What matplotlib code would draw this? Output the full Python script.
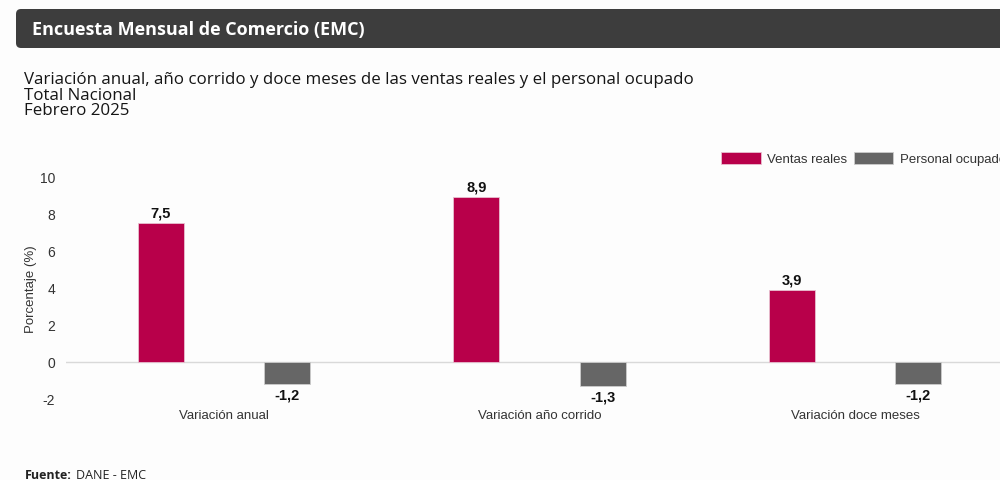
import numpy as np
import matplotlib.pyplot as plt
from matplotlib.patches import FancyBboxPatch

# datos
categorias = ['Variación anual', 'Variación año corrido', 'Variación doce meses']
ventas_reales = [7.5, 8.9, 3.9]
personal_ocupado = [-1.2, -1.3, -1.2]
series = ['Ventas reales', 'Personal ocupado']
yticks = [-2, 0, 2, 4, 6, 8, 10]

rojo = '#b8004a'
gris = '#666666'
fondo = '#fdfdfd'

fig = plt.figure(figsize=(10, 4.81), dpi=100, facecolor=fondo)

# barra de encabezado
header = FancyBboxPatch((0.16, 4.32), 9.95, 0.39, boxstyle='round,pad=0,rounding_size=0.05',
                        transform=fig.dpi_scale_trans, facecolor='#3d3d3d', edgecolor='none')
fig.patches.append(header)
fig.text(0.032, 1 - 30 / 481, 'Encuesta Mensual de Comercio (EMC)', color='white',
         fontsize=13, fontweight='bold', family='Open Sans', va='center')

subt = ['Variación anual, año corrido y doce meses de las ventas reales y el personal ocupado',
        'Total Nacional', 'Febrero 2025']
for i, s in enumerate(subt):
    fig.text(0.024, 1 - (80 + 15.5 * i) / 481, s, color='#151515', fontsize=12.2,
             family='Open Sans', va='center')

ax = fig.add_axes([0.066, (481 - 400) / 481, 0.947, 222 / 481])
ax.set_facecolor(fondo)
x = np.arange(len(categorias))
off = 0.2
w = 46 / 315.5
ax.bar(x - off, ventas_reales, w, color=rojo, edgecolor='#e8c0d0', linewidth=0.6,
       label=series[0], zorder=3)
ax.bar(x + off, personal_ocupado, w, color=gris, edgecolor='#cccccc', linewidth=0.6,
       label=series[1], zorder=3)

for xi, v in zip(x - off, ventas_reales):
    ax.text(xi, v + 0.2, f'{v:.1f}'.replace('.', ','), ha='center', va='bottom',
            fontsize=10.5, fontweight='bold', family='Liberation Sans', color='#111111')
for xi, v in zip(x + off, personal_ocupado):
    ax.text(xi, v - 0.2, f'{v:.1f}'.replace('.', ','), ha='center', va='top',
            fontsize=10.5, fontweight='bold', family='Liberation Sans', color='#111111')

ax.set_xlim(-0.5, 2.5)
ax.set_ylim(-2, 10)
ax.set_yticks(yticks)
ax.set_yticklabels([str(t) for t in yticks], family='Liberation Sans', fontsize=10, color='#333333')
ax.set_xticks(x)
ax.set_xticklabels(categorias, family='Liberation Sans', fontsize=9.5, color='#333333')
ax.tick_params(axis='both', length=0)
ax.tick_params(axis='y', pad=8)
ax.tick_params(axis='x', pad=7)
ax.axhline(0, color='#d9d9d9', linewidth=1, zorder=2)
for s in ax.spines.values():
    s.set_visible(False)
ax.set_ylabel('Porcentaje (%)', family='Liberation Sans', fontsize=9.5, color='#333333', labelpad=2)

leg = ax.legend(loc='upper left', bbox_to_anchor=(0.721, 1 - 153 / 481), bbox_transform=fig.transFigure,
                ncol=2, frameon=False, borderpad=0, borderaxespad=0, handlelength=3.0,
                handleheight=1.0, handletextpad=0.5, columnspacing=0.5,
                prop={'family': 'Liberation Sans', 'size': 9.5})
for t in leg.get_texts():
    t.set_color('#333333')

fig.text(0.025, 1 - 476 / 481, 'Fuente:', fontsize=9, fontweight='bold', family='Open Sans',
         color='#222222', va='center')
fig.text(0.076, 1 - 476 / 481, 'DANE - EMC', fontsize=9, family='Open Sans',
         color='#222222', va='center')

plt.savefig('out.png', dpi=100, facecolor=fondo)
